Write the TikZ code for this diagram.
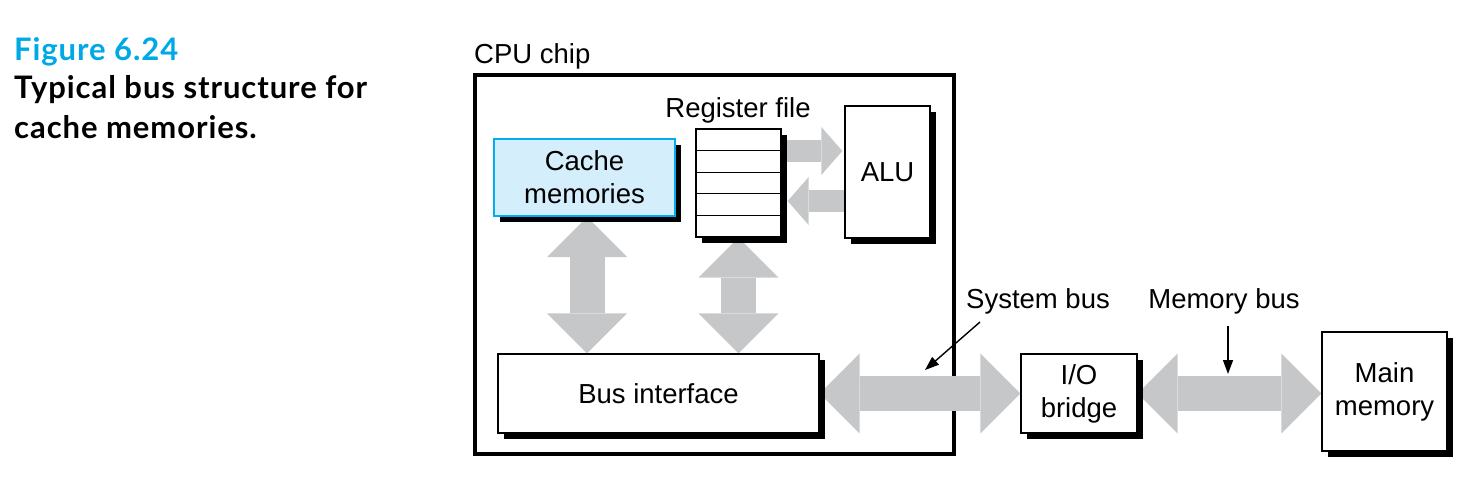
\documentclass[tikz,border=0pt]{standalone}
\usepackage{fontspec}
\setmainfont{Liberation Sans}
\newfontfamily\capfont[LetterSpace=3]{Lato}
\usetikzlibrary{arrows.meta,shadows,backgrounds,calc}
\definecolor{busgray}{RGB}{198,199,201}
\definecolor{cyanline}{RGB}{0,174,239}
\definecolor{cachefill}{RGB}{213,238,251}
\definecolor{figblue}{RGB}{0,169,230}
\begin{document}
\begin{tikzpicture}[x=1pt,y=-1pt,
  lbl/.style={font=\fontsize{27.5}{33}\selectfont,inner sep=0pt},
  captext/.style={font=\capfont\bfseries\fontsize{31}{36}\selectfont,inner sep=0pt,anchor=base west},
  box/.style={lbl,draw=black,line width=1.3pt,fill=white,align=center,
     drop shadow={shadow xshift=5.5pt,shadow yshift=-5.5pt,fill=black,opacity=1}},
  bigbus/.style={draw=busgray,line width=35pt,
     {Triangle[length=40pt,width=80pt,line width=0pt]}-{Triangle[length=40pt,width=80pt,line width=0pt]}},
  smallbus/.style={draw=busgray,line width=22pt,-{Triangle[length=21pt,width=48pt,line width=0pt]}},
  ptr/.style={draw=black,line width=1.4pt,-{Triangle[length=14pt,width=10pt]}}
]
\useasboundingbox (0,0) rectangle (1474,488);

% caption
\node[captext,text=figblue] (fig) at (14,60) {Figure 6.24};
\node[captext] (cap1) at (14,98) {Typical bus structure for};
\node[captext] (cap2) at (14,138) {cache memories.};

% labels
\node[lbl,anchor=base west] (cpulbl) at (474,63) {CPU chip};
\node[lbl,anchor=base] (reglbl) at (738,117) {Register file};

% boxes
\node[box,draw=cyanline,line width=2pt,fill=cachefill,minimum width=181pt,minimum height=77pt] (cache) at (584.5,177.5) {Cache\\memories};
\node[box,minimum width=85pt,minimum height=108pt] (reg) at (738.5,183) {};
\foreach \i in {1,...,4}
  \draw[line width=1.1pt] ($(reg.north west)!\i/5!(reg.south west)$) -- ($(reg.north east)!\i/5!(reg.south east)$);
\node[box,minimum width=85pt,minimum height=132pt] (alu) at (887.5,172) {ALU};
\node[box,minimum width=321pt,minimum height=79pt] (bus) at (658.5,393.5) {Bus interface};
\node[box,minimum width=116pt,minimum height=79pt] (io) at (1079,393.5) {I/O\\bridge};
\node[box,minimum width=125pt,minimum height=119pt] (mem) at (1384.5,391.5) {Main\\memory};

% bus labels and pointers
\node[lbl,anchor=base] (syslbl) at (1038,308) {System bus};
\node[lbl,anchor=base] (memlbl) at (1224,308) {Memory bus};
\coordinate (sysfrom) at (980,322);
\coordinate (systo) at (925,370);
\coordinate (memfrom) at (1228,326);
\coordinate (memto) at (1228,374);
\draw[ptr] (sysfrom) -- (systo);
\draw[ptr] (memfrom) -- (memto);

\begin{scope}[on background layer]
  \node[draw=black,line width=4pt,minimum width=479pt,minimum height=379pt,inner sep=0pt] (cpu) at (714.5,264.5) {};
  % register <-> ALU
  \coordinate (r1) at ([yshift=32pt]reg.east);
  \draw[smallbus] (r1) -- ([xshift=-2pt]r1 -| alu.west);
  \coordinate (a1) at ([yshift=-29pt]alu.west);
  \draw[smallbus] (a1) -- ([xshift=6pt]a1 -| reg.east);
  % vertical buses
  \draw[bigbus] ([xshift=2.5pt]cache.south) -- ([xshift=2.5pt]cache.south |- bus.north);
  \draw[bigbus] (reg.south) -- (reg.south |- bus.north);
  % system bus and memory bus
  \draw[bigbus] (bus.east) -- (io.west);
  \draw[bigbus] (io.east) -- (io.east -| mem.west);
\end{scope}
\end{tikzpicture}
\end{document}
